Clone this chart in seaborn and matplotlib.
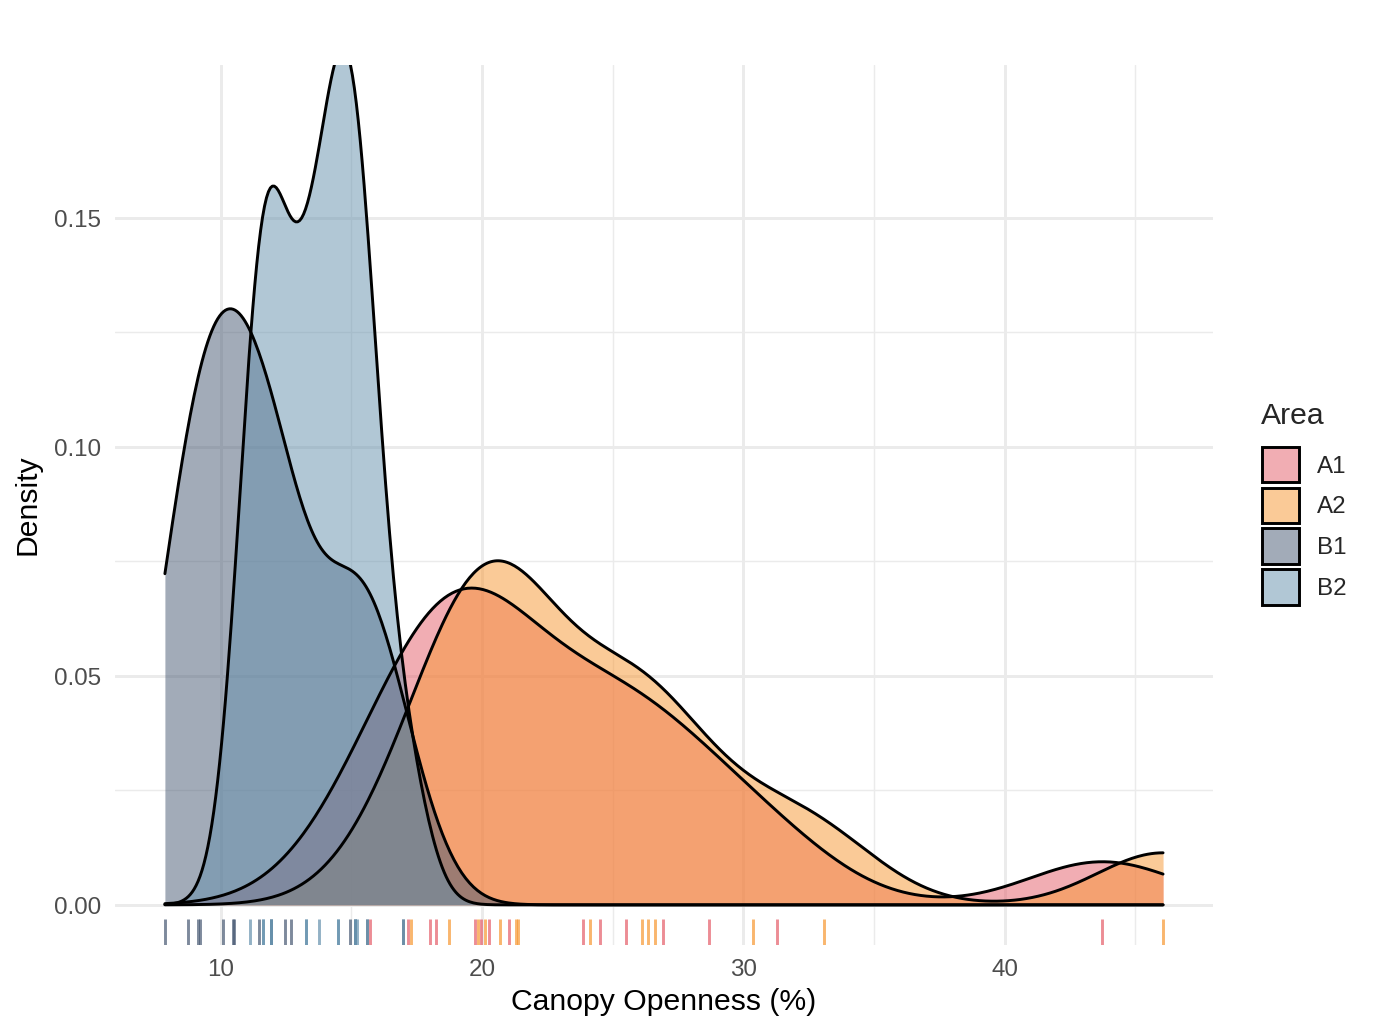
import numpy as np
import pandas as pd
import matplotlib
matplotlib.use("Agg")
import matplotlib.pyplot as plt
import seaborn as sns
from matplotlib.patches import Patch
from matplotlib.colors import to_rgba

# canopy openness (%) per area (repeats = overlapping ticks)
a1 = [15.71, 17.16, 17.99, 18.22, 19.74, 19.95, 20.25, 21.04, 23.88, 24.52,
      25.51, 26.91, 28.70, 31.30, 43.75]
a2 = [17.29, 18.72, 19.85, 20.10, 20.67, 21.31, 21.37, 24.14, 26.11, 26.36,
      26.64, 30.38, 33.08, 46.07]
b1 = [7.86, 8.73, 9.11, 9.21, 10.10, 10.45, 10.52, 11.46, 11.91, 12.45,
      12.70, 14.94, 15.12, 15.58, 16.98]
b2 = [11.11, 11.62, 11.62, 11.91, 11.91, 13.27, 13.27, 13.76, 14.48, 14.48,
      15.12, 15.12, 15.22, 15.58, 16.98]

areas = ["A1", "A2", "B1", "B2"]
colors = {"A1": "#E55D69", "A2": "#F79731", "B1": "#475973", "B2": "#6591AD"}

df = pd.concat([pd.DataFrame({"Area": k, "Openness": v})
                for k, v in zip(areas, [a1, a2, b1, b2])], ignore_index=True)

sns.set_theme(style="whitegrid")
plt.rcParams["font.family"] = ["Liberation Sans", "DejaVu Sans"]


def nrd0_factor(vals):
    # R's bw.nrd0 expressed as a gaussian_kde factor
    v = np.asarray(vals)
    sd = v.std(ddof=1)
    iqr = np.subtract(*np.percentile(v, [75, 25]))
    h = 0.9 * min(sd, iqr / 1.34) * len(v) ** -0.2
    return h / sd


lo, hi = df["Openness"].min(), df["Openness"].max()

fig = plt.figure(figsize=(7, 5.25), dpi=197)
ax = fig.add_axes([0.0834, 0.0861, 0.7962, 0.851])

for k in areas:
    vals = df.loc[df["Area"] == k, "Openness"]
    f = nrd0_factor(vals)
    sns.kdeplot(x=vals, fill=True, color=colors[k], alpha=0.5, linewidth=0,
                bw_method=f, cut=100, clip=(lo, hi), gridsize=512, ax=ax)
    sns.kdeplot(x=vals, color="black", linewidth=1.07,
                bw_method=f, cut=100, clip=(lo, hi), gridsize=512, ax=ax)

for k in areas:
    vals = df.loc[df["Area"] == k, "Openness"]
    sns.rugplot(x=vals, height=0.03, color=colors[k], alpha=0.7,
                linewidth=1.07, ax=ax)

ax.set_xlim(5.95, 47.98)
ax.set_ylim(-0.00875, 0.1834)
ax.set_xticks([10, 20, 30, 40])
ax.set_xticks([15, 25, 35, 45], minor=True)
ax.set_yticks([0, 0.05, 0.10, 0.15])
ax.set_yticks([0.025, 0.075, 0.125], minor=True)
ax.set_yticklabels(["0.00", "0.05", "0.10", "0.15"])
ax.grid(which="major", color="#EBEBEB", linewidth=1.07)
ax.grid(which="minor", color="#EBEBEB", linewidth=0.53)
ax.set_axisbelow(True)
for s in ax.spines.values():
    s.set_visible(False)
ax.tick_params(which="both", length=0, labelsize=8.8, labelcolor="#4D4D4D", pad=5)
ax.set_xlabel("Canopy Openness (%)", fontsize=11, color="black", labelpad=2.5)
ax.set_ylabel("Density", fontsize=11, color="black", labelpad=4.5)

handles = [Patch(facecolor=to_rgba(colors[k], 0.5), edgecolor="black", linewidth=1.07)
           for k in areas]
fig.text(0.9145, 0.598, "Area", fontsize=11, ha="left", va="center")
fig.legend(handles, areas, loc="upper left",
           bbox_to_anchor=(0.9151, 0.5677), frameon=False,
           fontsize=8.8, handlelength=1.54, handleheight=1.9, labelspacing=0.21,
           handletextpad=0.75, borderpad=0, borderaxespad=0)

fig.savefig("out.png", dpi=197)
